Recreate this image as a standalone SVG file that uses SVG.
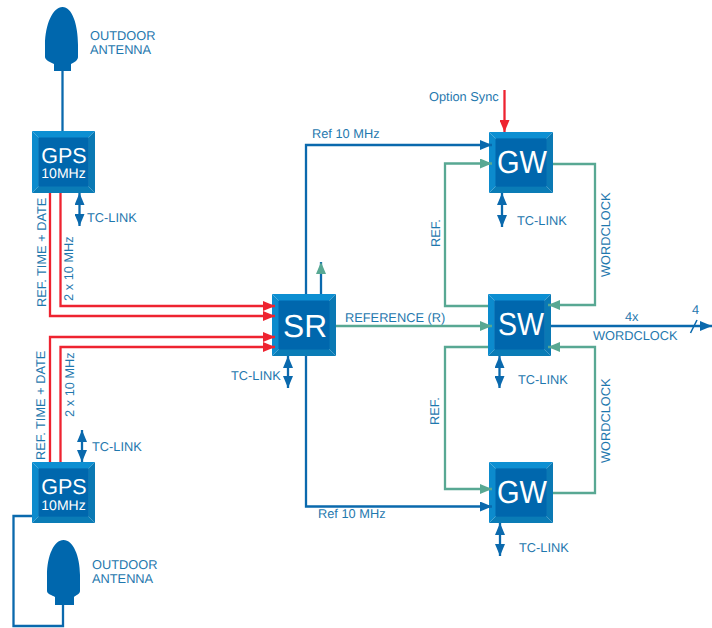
<svg xmlns="http://www.w3.org/2000/svg" width="712" height="628" viewBox="0 0 712 628">
<style>
text{font-family:"Liberation Sans",Arial,sans-serif;font-size:12.8px;fill:#1f78ae;text-rendering:geometricPrecision}
.w{fill:#fff;text-anchor:middle}
.big2{font-size:32px}
.gps{font-size:21.5px}
.sub{font-size:14px}
.l{fill:none;stroke-width:2.3}
.blue{stroke:#0a69ad}
.red{stroke:#ee2330}
.green{stroke:#58a893}
.slash{fill:none;stroke:#0a69ad;stroke-width:1.5}
.top{fill:#0d8fd2}
.right{fill:#0a79b4}
.bottom{fill:#0a7cb6}
.left{fill:#0c8bcd}
.inner{fill:#0067ad}
.ant{fill:#0067ad}
</style>
<defs>
<marker id="ab" markerUnits="userSpaceOnUse" markerWidth="13" markerHeight="10" refX="12" refY="5" orient="auto"><path d="M0 0L12 5L0 10Z" fill="#0a69ad"/></marker>
<marker id="abs" markerUnits="userSpaceOnUse" markerWidth="13" markerHeight="10" refX="0" refY="5" orient="auto"><path d="M12 0L0 5L12 10Z" fill="#0a69ad"/></marker>
<marker id="ar" markerUnits="userSpaceOnUse" markerWidth="13" markerHeight="10" refX="12" refY="5" orient="auto"><path d="M0 0L12 5L0 10Z" fill="#ee2330"/></marker>
<marker id="ag" markerUnits="userSpaceOnUse" markerWidth="13" markerHeight="10" refX="12" refY="5" orient="auto"><path d="M0 0L12 5L0 10Z" fill="#58a893"/></marker>
<symbol id="box" viewBox="0 0 64 62" preserveAspectRatio="none">
<path class="top" d="M0 0H64L57 7H7Z"/>
<path class="right" d="M64 0V62L57 55V7Z"/>
<path class="bottom" d="M64 62H0L7 55H57Z"/>
<path class="left" d="M0 62V0L7 7V55Z"/>
<rect class="inner" x="6.5" y="6.5" width="51" height="49"/>
</symbol>
</defs>
<g id="antenna1">
<path class="ant" d="M62.500 7C72 7 78 24 78 45V57C78 60 75 62 71 64V71H54V64C50 62 45 60 45 57V45C45 24 53 7 62.500 7Z"/>
<text x="90" y="40">OUTDOOR</text><text x="90" y="54">ANTENNA</text>
</g>
<g id="antenna2">
<path class="ant" d="M63.500 540C73 540 80 556 80 575V591C80 594 76 595 74 597V605H55V597C52 595 47 594 47 591V575C47 556 54 540 63.500 540Z"/>
<text x="92" y="569">OUTDOOR</text><text x="92" y="583">ANTENNA</text>
</g>
<g id="gps1"><use href="#box" x="32" y="131" width="63" height="62"/><text class="w gps" x="64" y="163">GPS</text><text class="w sub" x="63.500" y="178">10MHz</text></g>
<g id="gps2"><use href="#box" x="32" y="462" width="63" height="61"/><text class="w gps" x="64" y="494">GPS</text><text class="w sub" x="63.500" y="510">10MHz</text></g>
<g id="sr"><use href="#box" x="272" y="294" width="64" height="62"/><text class="w big2" x="305" y="337" textLength="44" lengthAdjust="spacingAndGlyphs">SR</text></g>
<g id="gw1"><use href="#box" x="489" y="132" width="64" height="61"/><text class="w big2" x="522" y="173" textLength="50" lengthAdjust="spacingAndGlyphs">GW</text></g>
<g id="sw"><use href="#box" x="488" y="294" width="63" height="62"/><text class="w big2" x="521" y="335" textLength="46" lengthAdjust="spacingAndGlyphs">SW</text></g>
<g id="gw2"><use href="#box" x="489" y="462" width="64" height="61"/><text class="w big2" x="522" y="503" textLength="50" lengthAdjust="spacingAndGlyphs">GW</text></g>
<g id="connectors">
<path class="l blue" d="M62.500 70V131"/>
<path class="l blue" d="M32 516H13.500V626H63V605"/>
<path class="l red" marker-end="url(#ar)" d="M50 193V316H275"/>
<path class="l red" marker-end="url(#ar)" d="M60.500 193V306H275"/>
<path class="l red" marker-end="url(#ar)" d="M50 462V337H275"/>
<path class="l red" marker-end="url(#ar)" d="M60.500 462V347H275"/>
<path class="l blue" marker-start="url(#abs)" marker-end="url(#ab)" d="M79.500 193V226"/>
<path class="l blue" marker-start="url(#abs)" marker-end="url(#ab)" d="M82 430V462"/>
<path class="l blue" marker-start="url(#abs)" marker-end="url(#ab)" d="M288 356V388"/>
<path class="l blue" marker-start="url(#abs)" marker-end="url(#ab)" d="M502 193V227"/>
<path class="l blue" marker-start="url(#abs)" marker-end="url(#ab)" d="M499.500 356V388"/>
<path class="l blue" marker-start="url(#abs)" marker-end="url(#ab)" d="M500 523V556"/>
<path class="l blue" marker-end="url(#ab)" d="M306 294V145H492"/>
<path class="l blue" marker-end="url(#ab)" d="M306 356V506.500H492"/>
<path class="l blue" marker-end="url(#ag)" d="M321 294V262"/>
<path class="l red" marker-end="url(#ar)" d="M504.500 90V132"/>
<path class="l green" marker-end="url(#ag)" d="M336 326H492"/>
<path class="l green" marker-end="url(#ag)" d="M488 306H445V163.500H492"/>
<path class="l green" marker-end="url(#ag)" d="M553 164H595V305H548"/>
<path class="l green" marker-end="url(#ag)" d="M488 347H445V489H492"/>
<path class="l green" marker-end="url(#ag)" d="M553 493H595V347H548"/>
<path class="l blue" marker-end="url(#ab)" d="M551 326H712"/>
<path class="slash" d="M690.500 333L697 320"/>
</g>
<g id="labels">
<text x="87" y="222">TC-LINK</text>
<text x="92" y="451">TC-LINK</text>
<text x="231" y="380">TC-LINK</text>
<text x="517" y="225">TC-LINK</text>
<text x="518" y="384">TC-LINK</text>
<text x="519" y="552">TC-LINK</text>
<text x="312" y="138">Ref 10 MHz</text>
<text x="318" y="518">Ref 10 MHz</text>
<text x="345" y="322">REFERENCE (R)</text>
<text x="429" y="101">Option Sync</text>
<text x="625" y="321">4x</text>
<text x="593" y="340">WORDCLOCK</text>
<text x="692" y="314">4</text>
<text transform="translate(46 307) rotate(-90)">REF. TIME + DATE</text>
<text transform="translate(73 301) rotate(-90)">2 x 10 MHz</text>
<text transform="translate(45 460) rotate(-90)">REF. TIME + DATE</text>
<text transform="translate(74 417) rotate(-90)">2 x 10 MHz</text>
<text transform="translate(440 247) rotate(-90)">REF.</text>
<text transform="translate(439 425) rotate(-90)">REF.</text>
<text transform="translate(610 277) rotate(-90)">WORDCLOCK</text>
<text transform="translate(610 463) rotate(-90)">WORDCLOCK</text>
</g>
</svg>
